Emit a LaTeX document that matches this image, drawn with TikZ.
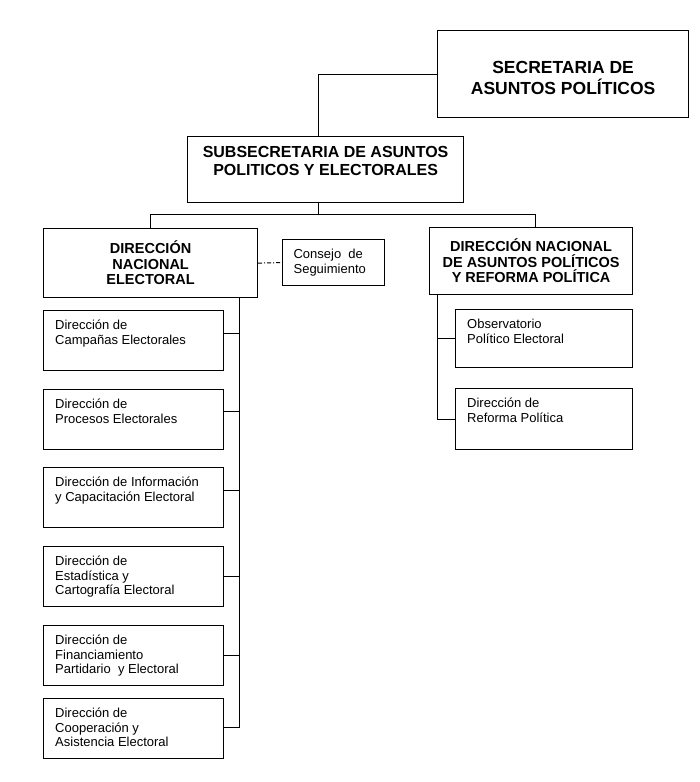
\documentclass[tikz,border=0pt]{standalone}
\usepackage{fontspec}
\setmainfont{Liberation Sans}
\begin{document}
\begin{tikzpicture}[x=1pt,y=-1pt,
    bigbox/.style={draw, line width=1.2pt, anchor=north west, align=center},
    unitbox/.style={draw, line width=1.2pt, anchor=north west, minimum width=180pt, minimum height=60pt},
    unittext/.style={anchor=north west, align=left, inner sep=0pt, font=\fontsize{13}{14.5}\selectfont},
    conn/.style={line width=1pt}]
    \useasboundingbox (0,0) rectangle (699,782);
    \node[bigbox, minimum width=251pt, minimum height=87pt] (sec) at (437,30) {};
    \node[align=center, inner sep=0pt, font=\fontsize{17.5}{21}\selectfont\bfseries] (sec-t) at ([yshift=-4pt]sec.center) {SECRETARIA DE\\ASUNTOS POLÍTICOS};
    \node[bigbox, minimum width=276pt, minimum height=66pt] (subsec) at (187,136) {};
    \node[anchor=north, align=center, inner sep=0pt, font=\fontsize{16}{18}\selectfont\bfseries] (subsec-t) at ([yshift=-10pt]subsec.north) {SUBSECRETARIA DE ASUNTOS\\POLITICOS Y ELECTORALES};
    \node[bigbox, minimum width=214pt, minimum height=69pt, font=\fontsize{14.5}{15.5}\selectfont\bfseries] (dne) at (43,228) {DIRECCIÓN\\NACIONAL\\ELECTORAL};
    \node[bigbox, minimum width=102pt, minimum height=46pt, align=left, text width=80pt, inner xsep=11pt, font=\fontsize{13}{14.5}\selectfont] (cons) at (282,239) {Consejo\hspace{7pt}de\\Seguimiento};
    \node[bigbox, minimum width=203pt, minimum height=67pt, font=\fontsize{14.5}{15.5}\selectfont\bfseries] (dnap) at (429,227) {DIRECCIÓN NACIONAL\\DE ASUNTOS POLÍTICOS\\Y REFORMA POLÍTICA};
    % left column
    \node[unitbox] (camp) at (43,310) {};
    \node[unittext] (camp-t) at ([shift={(12pt,-10pt)}]camp.north west) {Dirección de\\Campañas Electorales};
    \node[unitbox] (proc) at (43,389) {};
    \node[unittext] (proc-t) at ([shift={(12pt,-10pt)}]proc.north west) {Dirección de\\Procesos Electorales};
    \node[unitbox] (info) at (43,467) {};
    \node[unittext] (info-t) at ([shift={(12pt,-10pt)}]info.north west) {Dirección de Información\\y Capacitación Electoral};
    \node[unitbox] (esta) at (43,546) {};
    \node[unittext] (esta-t) at ([shift={(12pt,-10pt)}]esta.north west) {Dirección de\\Estadística y\\Cartografía Electoral};
    \node[unitbox] (fina) at (43,625) {};
    \node[unittext] (fina-t) at ([shift={(12pt,-10pt)}]fina.north west) {Dirección de\\Financiamiento\\Partidario\ \ y Electoral};
    \node[unitbox] (coop) at (43,698) {};
    \node[unittext] (coop-t) at ([shift={(12pt,-10pt)}]coop.north west) {Dirección de\\Cooperación y\\Asistencia Electoral};
    % right column
    \node[unitbox, minimum width=177pt, minimum height=58pt] (obs) at (455,309) {};
    \node[unittext] (obs-t) at ([shift={(12pt,-10pt)}]obs.north west) {Observatorio\\Político Electoral};
    \node[unitbox, minimum width=177pt, minimum height=61pt] (ref) at (455,388) {};
    \node[unittext] (ref-t) at ([shift={(12pt,-10pt)}]ref.north west) {Dirección de\\Reforma Política};
    % connectors
    \draw[conn] (sec.west) -| ([xshift=-7pt]subsec.north);
    \draw[conn] ([xshift=-7pt]subsec.south) -- ++(0,11) coordinate (bar);
    \draw[conn] (dne.north) |- (bar) -| ([xshift=4pt]dnap.north);
    \draw[conn, dash pattern=on 4pt off 2pt on 1pt off 2pt] (dne.east) -- (cons.west);
    \coordinate (lsp) at ([xshift=89pt]dne.south);
    \draw[conn] (lsp) |- (coop-t.west -| coop.east);
    \foreach \u in {camp,proc,info,esta,fina}
        \draw[conn] (\u-t.west -| \u.east) -- (\u-t.west -| lsp);
    \coordinate (rsp) at ([xshift=8pt]dnap.south west);
    \draw[conn] (rsp) |- (ref.west);
    \draw[conn] (obs.west) -- (obs.west -| rsp);
\end{tikzpicture}
\end{document}
